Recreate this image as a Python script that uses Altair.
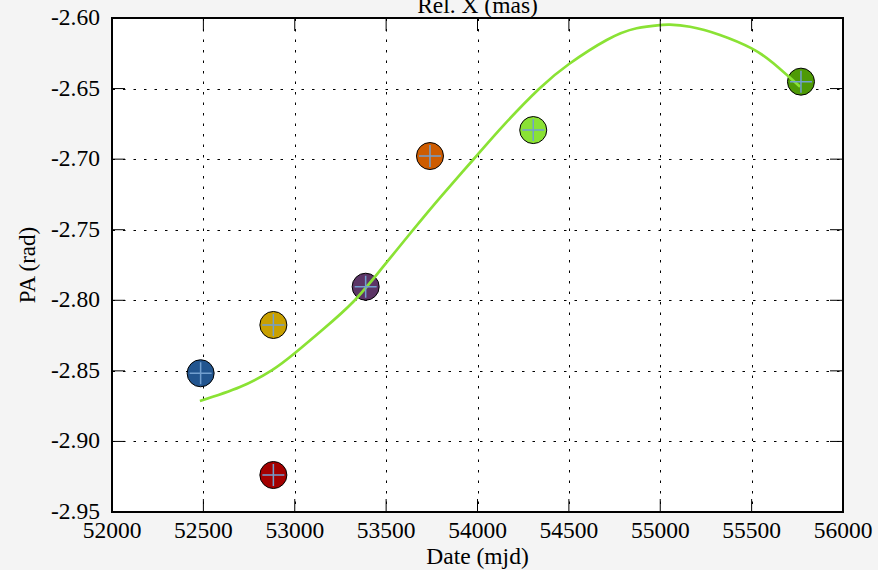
import altair as alt
import pandas as pd

# Observed epochs (MJD) and position angle (rad)
obs_date = [52485, 52883, 52883, 53388, 53740, 54305, 55770]
obs_pa = [-2.8517, -2.9238, -2.8175, -2.7904, -2.6978, -2.6794, -2.6451]
obs_color = ["#22558f", "#a40000", "#c9a000", "#5c3566", "#ce5c00", "#8ae234", "#4e9a06"]

# Model curve
model_date = [52481, 52700, 52876, 53001, 53160, 53319, 53466, 53647, 53800,
              53975, 54150, 54342, 54501, 54707, 54871, 55002, 55053, 55163,
              55327, 55500, 55619, 55765]
model_pa = [-2.8714, -2.8615, -2.8495, -2.8374, -2.8200, -2.8012, -2.7790,
            -2.7502, -2.7265, -2.7006, -2.6750, -2.6496, -2.6326, -2.6156,
            -2.6073, -2.6050, -2.6047, -2.6062, -2.6120, -2.6215, -2.6321,
            -2.6487]

x_ticks = [52000, 52500, 53000, 53500, 54000, 54500, 55000, 55500, 56000]
y_ticks = [-2.95, -2.90, -2.85, -2.80, -2.75, -2.70, -2.65, -2.60]
title_text = "Rel. X (mas)"
x_title = "Date (mjd)"
y_title = "PA (rad)"

W, H = 731, 494
FONT = "Liberation Serif"
FS = 23.5
TICK = 13

obs = pd.DataFrame({"date": obs_date, "pa": obs_pa, "color": obs_color})
model = pd.DataFrame({"date": model_date, "pa": model_pa})
xt = pd.DataFrame({"v": x_ticks, "lab": [str(v) for v in x_ticks]})
yt = pd.DataFrame({"v": y_ticks, "lab": ["%.2f" % v for v in y_ticks]})
texts = pd.DataFrame({"t": [title_text, x_title, y_title]})

xscale = alt.Scale(domain=[52000, 56000], nice=False, zero=False)
yscale = alt.Scale(domain=[-2.95, -2.60], nice=False, zero=False)

grid = dict(ticks=False, labels=False, domain=False, title=None,
            grid=True, gridColor="black", gridDash=[2.5, 8], gridWidth=1,
            gridOpacity=1)
x_axis = alt.Axis(values=x_ticks, **grid)
y_axis = alt.Axis(values=y_ticks, **grid)

circles = alt.Chart(obs).mark_point(
    shape="circle", filled=True, size=730, stroke="black", strokeWidth=1, opacity=1
).encode(
    x=alt.X("date:Q", scale=xscale, axis=x_axis),
    y=alt.Y("pa:Q", scale=yscale, axis=y_axis),
    fill=alt.Fill("color:N", scale=None),
)

curve = alt.Chart(model).mark_line(
    color="#8ae234", strokeWidth=2.7, interpolate="natural"
).encode(
    x=alt.X("date:Q", scale=xscale),
    y=alt.Y("pa:Q", scale=yscale),
)

crosses = alt.Chart(obs).mark_point(
    shape="M-1,0L1,0M0,-1L0,1", filled=False, size=484,
    stroke="#729fcf", strokeWidth=1.5, opacity=1
).encode(
    x=alt.X("date:Q", scale=xscale),
    y=alt.Y("pa:Q", scale=yscale),
)

# Inward ticks on all four sides
tick_style = dict(color="black", strokeWidth=1)
x_bottom = alt.Chart(xt).mark_rule(**tick_style).encode(
    x=alt.X("v:Q", scale=xscale), y=alt.value(H), y2=alt.value(H - TICK))
x_top = alt.Chart(xt).mark_rule(**tick_style).encode(
    x=alt.X("v:Q", scale=xscale), y=alt.value(0), y2=alt.value(TICK))
y_left = alt.Chart(yt).mark_rule(**tick_style).encode(
    y=alt.Y("v:Q", scale=yscale), x=alt.value(0), x2=alt.value(TICK))
y_right = alt.Chart(yt).mark_rule(**tick_style).encode(
    y=alt.Y("v:Q", scale=yscale), x=alt.value(W - TICK), x2=alt.value(W))

# Tick labels
txt = dict(font=FONT, fontSize=FS, color="black")
x_labels = alt.Chart(xt).mark_text(align="center", baseline="alphabetic", **txt).encode(
    x=alt.X("v:Q", scale=xscale), y=alt.value(H + 26), text="lab:N")
y_labels = alt.Chart(yt).mark_text(align="right", baseline="middle", **txt).encode(
    y=alt.Y("v:Q", scale=yscale), x=alt.value(-12), text="lab:N")

# Titles
top_title = alt.Chart(texts).transform_filter(
    alt.datum.t == title_text
).mark_text(align="center", baseline="alphabetic", **txt).encode(
    text="t:N", x=alt.value(W / 2), y=alt.value(-5))
xlab = alt.Chart(texts).transform_filter(
    alt.datum.t == x_title
).mark_text(align="center", baseline="alphabetic", **txt).encode(
    text="t:N", x=alt.value(W / 2), y=alt.value(H + 52))
ylab = alt.Chart(texts).transform_filter(
    alt.datum.t == y_title
).mark_text(align="center", baseline="alphabetic", angle=270,
            font=FONT, fontSize=23, color="black").encode(
    text="t:N", x=alt.value(-77), y=alt.value(H / 2))

chart = alt.layer(
    circles, curve, crosses, x_bottom, x_top, y_left, y_right,
    x_labels, y_labels, top_title, xlab, ylab
).properties(
    width=W, height=H,
    autosize=alt.AutoSizeParams(type="none"),
    padding={"left": 112, "top": 18, "right": 35, "bottom": 58},
    background="#f4f4f4",
).configure_view(
    fill="white", stroke="black", strokeWidth=2
)

chart.save("out.html", embed_options={"renderer": "svg", "actions": False})
